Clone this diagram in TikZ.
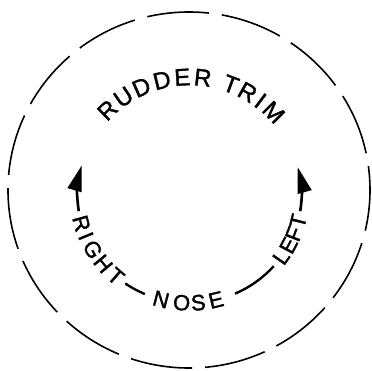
\documentclass[tikz,border=0pt]{standalone}
\usepackage{fontspec}
\setmainfont{Liberation Sans}[FakeBold=1.5]
\usetikzlibrary{arrows.meta}

\begin{document}
\begin{tikzpicture}[
  x=1pt, y=1pt,
  rim/.style={line width=1.6pt, dash pattern=on 62pt off 13pt, dash phase=38pt},
  toptext/.style={font=\fontsize{24}{24}\selectfont, inner sep=0pt},
  lowtext/.style={font=\fontsize{22}{22}\selectfont, inner sep=0pt},
  trimline/.style={line width=2.4pt},
  trimarrow/.style={line width=2.6pt, -{Triangle[length=26pt,width=14pt]}}
]
\useasboundingbox (-189.5,-175) rectangle (182.5,195);

% outer dashed rim
\draw[rim] (-0.5,5) ellipse [x radius=181, y radius=178];

% upper legend
\foreach \ch/\ang [count=\i] in {R/134,U/124,D/114,D/103.5,E/93.5,R/83.5,T/69.5,R/60.5,I/53,M/44.5}
  \node[toptext, rotate=\ang-90] (top\i) at (\ang:118) {\ch};

% lower legend
\foreach \ch/\ang [count=\i] in {R/195.3,I/202.4,G/210.3,H/219.6,T/228.9,N/255.3,O/266,S/274.5,E/283.7,L/324.9,E/332.2,F/338.9,T/346}
  \node[lowtext, rotate=\ang+90] (low\i) at (\ang:112 and 108) {\ch};

% arrows and rules between the words
\coordinate (leftfoot) at (188.6:112 and 108);
\coordinate (rightfoot) at (351.4:112 and 108);
\coordinate (leftrule) at (235:112 and 108);
\coordinate (rightrule) at (294:112 and 108);

\draw[trimarrow] (leftfoot) arc[start angle=188.6, end angle=164, x radius=112, y radius=108];
\draw[trimarrow] (rightfoot) arc[start angle=351.4, end angle=375, x radius=112, y radius=108];
\draw[trimline] (leftrule) arc[start angle=235, end angle=246.5, x radius=112, y radius=108];
\draw[trimline] (rightrule) arc[start angle=294, end angle=318.8, x radius=112, y radius=108];
\end{tikzpicture}
\end{document}
